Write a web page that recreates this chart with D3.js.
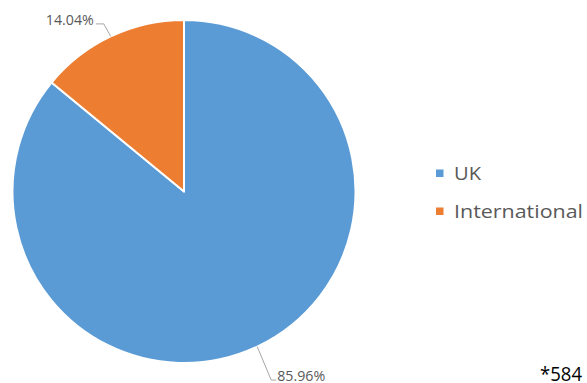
<!DOCTYPE html>
<html>
<head>
<meta charset="utf-8">
<script src="https://cdn.jsdelivr.net/npm/d3@7"></script>
<style>
  html, body { margin: 0; padding: 0; background: #fff; }
  svg { display: block; font-family: "Open Sans", "Noto Sans", sans-serif; }
</style>
</head>
<body>
<svg id="chart" width="587" height="383"></svg>
<script>
// Share of respondents by origin
const categories = ["UK", "International"];
const shares = [85.96, 14.04];
const colors = ["#5B9BD5", "#ED7D31"];
const totalNote = "*584";

const svg = d3.select("#chart");
const cx = 184, cy = 191.5, radius = 171.5;

const pie = d3.pie().sort(null).value(d => d.value)
  .startAngle(0).endAngle(2 * Math.PI);
const data = categories.map((c, i) => ({ name: c, value: shares[i], color: colors[i] }));
const arcs = pie(data);
const arc = d3.arc().innerRadius(0).outerRadius(radius);

const g = svg.append("g").attr("transform", `translate(${cx},${cy})`);

g.selectAll("path.slice")
  .data(arcs)
  .join("path")
  .attr("class", "slice")
  .attr("d", arc)
  .attr("fill", d => d.data.color)
  .attr("stroke", "#fff")
  .attr("stroke-width", 2)
  .attr("stroke-linejoin", "round");

// Data labels with leader lines from the slice's outer midpoint
const fmt = v => v.toFixed(2) + "%";
const labelPlacement = [
  // UK label sits below-right of the pie
  { dx: 14, dy: 33.5, run: 5, anchor: "start", textDx: 1, textDy: 0.5 },
  // International label sits above-left
  { dx: -7, dy: -12.5, run: -8, anchor: "end", textDx: -2, textDy: 1 }
];

arcs.forEach((a, i) => {
  const mid = (a.startAngle + a.endAngle) / 2;
  const px = radius * Math.sin(mid);
  const py = -radius * Math.cos(mid);
  const p = labelPlacement[i];
  const ex = px + p.dx, ey = py + p.dy;
  g.append("path")
    .attr("d", `M${px},${py}L${ex},${ey}L${ex + p.run},${ey}`)
    .attr("fill", "none")
    .attr("stroke", "#A6A6A6")
    .attr("stroke-width", 1);
  g.append("text")
    .attr("x", ex + p.run + p.textDx)
    .attr("y", ey + p.textDy)
    .attr("text-anchor", p.anchor)
    .attr("font-size", 14)
    .attr("fill", "#595959")
    .attr("textLength", 48)
    .attr("lengthAdjust", "spacingAndGlyphs")
    .text(fmt(a.data.value));
});

// Legend
const legend = svg.append("g").attr("transform", "translate(436,0)");
const legendY = [180, 218];
const legendW = [27, 129];
data.forEach((d, i) => {
  legend.append("rect")
    .attr("x", 0)
    .attr("y", legendY[i] - 10.5)
    .attr("width", 7.5)
    .attr("height", 7.5)
    .attr("fill", d.color);
  legend.append("text")
    .attr("x", 18)
    .attr("y", legendY[i])
    .attr("font-size", 18.5)
    .attr("fill", "#595959")
    .attr("textLength", legendW[i])
    .attr("lengthAdjust", "spacingAndGlyphs")
    .text(d.name);
});

// Sample size note
svg.append("text")
  .attr("x", 540)
  .attr("y", 381)
  .attr("font-size", 19.5)
  .attr("fill", "#000")
  .attr("textLength", 42)
  .attr("lengthAdjust", "spacingAndGlyphs")
  .text(totalNote);
</script>
</body>
</html>
